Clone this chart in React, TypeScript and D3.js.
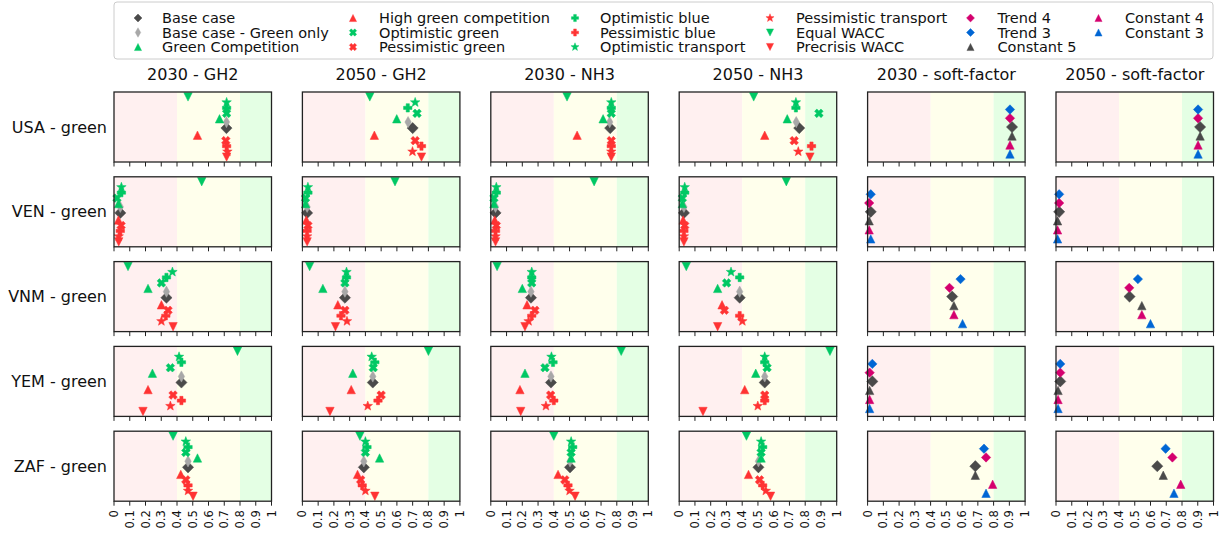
import React from "react";
import * as d3 from "d3";

const countries = ["USA - green", "VEN - green", "VNM - green", "YEM - green", "ZAF - green"];
const columnTitles = ["2030 - GH2", "2050 - GH2", "2030 - NH3", "2050 - NH3", "2030 - soft-factor", "2050 - soft-factor"];
const xTicks = [0, 0.1, 0.2, 0.3, 0.4, 0.5, 0.6, 0.7, 0.8, 0.9, 1];
const xTickLabels = ["0", "0.1", "0.2", "0.3", "0.4", "0.5", "0.6", "0.7", "0.8", "0.9", "1"];
const bands = [
  { from: 0, to: 0.4, color: "#fff0f0" },
  { from: 0.4, to: 0.8, color: "#ffffec" },
  { from: 0.8, to: 1, color: "#e4ffe4" },
];

// rows = countries (USA, VEN, VNM, YEM, ZAF); cols = [2030 GH2, 2050 GH2, 2030 NH3, 2050 NH3]
const baseCase = [
  [0.714, 0.7, 0.758, 0.762],
  [0.04, 0.03, 0.03, 0.03],
  [0.333, 0.27, 0.255, 0.384],
  [0.428, 0.447, 0.382, 0.543],
  [0.47, 0.39, 0.503, 0.503],
];
const baseGreenOnly = [
  [0.714, 0.671, 0.755, 0.743],
  [0.04, 0.03, 0.03, 0.03],
  [0.333, 0.27, 0.255, 0.384],
  [0.428, 0.447, 0.382, 0.543],
  [0.47, 0.39, 0.503, 0.503],
];
const greenCompetition = [
  [0.67, 0.599, 0.713, 0.686],
  [0.028, 0.02, 0.02, 0.02],
  [0.216, 0.13, 0.2, 0.244],
  [0.244, 0.32, 0.217, 0.486],
  [0.53, 0.49, 0.51, 0.52],
];
const highGreenCompetition = [
  [0.53, 0.457, 0.548, 0.543],
  [0.028, 0.025, 0.025, 0.025],
  [0.301, 0.225, 0.23, 0.272],
  [0.216, 0.31, 0.185, 0.416],
  [0.424, 0.35, 0.427, 0.44],
];
const optimisticGreen = [
  [0.715, 0.728, 0.765, 0.887],
  [0.019, 0.02, 0.02, 0.02],
  [0.301, 0.27, 0.26, 0.301],
  [0.358, 0.45, 0.344, 0.558],
  [0.456, 0.4, 0.51, 0.52],
];
const pessimisticGreen = [
  [0.71, 0.716, 0.765, 0.73],
  [0.045, 0.035, 0.035, 0.035],
  [0.343, 0.27, 0.28, 0.287],
  [0.375, 0.5, 0.38, 0.543],
  [0.456, 0.37, 0.47, 0.51],
];
const optimisticBlue = [
  [0.715, 0.669, 0.765, 0.741],
  [0.047, 0.035, 0.035, 0.035],
  [0.333, 0.28, 0.26, 0.384],
  [0.428, 0.46, 0.395, 0.543],
  [0.47, 0.41, 0.52, 0.53],
];
const pessimisticBlue = [
  [0.715, 0.756, 0.765, 0.84],
  [0.04, 0.03, 0.03, 0.03],
  [0.329, 0.245, 0.26, 0.384],
  [0.428, 0.48, 0.4, 0.543],
  [0.47, 0.38, 0.49, 0.53],
];
const optimisticTransport = [
  [0.715, 0.716, 0.765, 0.741],
  [0.047, 0.035, 0.035, 0.035],
  [0.371, 0.28, 0.26, 0.329],
  [0.413, 0.44, 0.385, 0.543],
  [0.456, 0.4, 0.51, 0.52],
];
const pessimisticTransport = [
  [0.72, 0.699, 0.765, 0.756],
  [0.03, 0.03, 0.03, 0.03],
  [0.301, 0.283, 0.24, 0.401],
  [0.358, 0.415, 0.35, 0.499],
  [0.47, 0.4, 0.5, 0.55],
];
const equalWACC = [
  [0.47, 0.428, 0.484, 0.473],
  [0.557, 0.588, 0.656, 0.68],
  [0.089, 0.046, 0.04, 0.045],
  [0.784, 0.8, 0.828, 0.957],
  [0.375, 0.365, 0.4, 0.427],
];
const precrisisWACC = [
  [0.715, 0.756, 0.765, 0.83],
  [0.03, 0.03, 0.03, 0.03],
  [0.375, 0.21, 0.217, 0.244],
  [0.184, 0.175, 0.19, 0.151],
  [0.502, 0.46, 0.535, 0.58],
];

// soft-factor: rows = countries; cols = [2030, 2050]
const softBase = [
  [0.917, 0.915],
  [0.02, 0.02],
  [0.537, 0.467],
  [0.03, 0.027],
  [0.684, 0.643],
];
const trend4 = [
  [0.904, 0.902],
  [0.01, 0.02],
  [0.52, 0.465],
  [0.013, 0.027],
  [0.752, 0.739],
];
const trend3 = [
  [0.904, 0.902],
  [0.02, 0.02],
  [0.59, 0.52],
  [0.03, 0.027],
  [0.739, 0.696],
];
const constant5 = [
  [0.917, 0.915],
  [0.01, 0.01],
  [0.548, 0.545],
  [0.013, 0.013],
  [0.684, 0.681],
];
const constant4 = [
  [0.904, 0.902],
  [0.01, 0.01],
  [0.548, 0.545],
  [0.013, 0.013],
  [0.794, 0.792],
];
const constant3 = [
  [0.904, 0.902],
  [0.02, 0.01],
  [0.603, 0.6],
  [0.013, 0.013],
  [0.752, 0.749],
];

const GREEN = "#00c864";
const RED = "#ff3333";
const DARK = "#4a4a4a";
const GREY = "#a8a8a8";
const MAGENTA = "#d4006e";
const BLUE = "#0066d4";

type Shape = "diamond" | "bigdiamond" | "thindiamond" | "triup" | "tridown" | "x" | "plus" | "star";

function shapePath(shape: Shape): string {
  switch (shape) {
    case "diamond": { const r = 4.7; return `M0,${-r}L${r},0L0,${r}L${-r},0Z`; }
    case "bigdiamond": { const r = 5.6; return `M0,${-r}L${r},0L0,${r}L${-r},0Z`; }
    case "thindiamond": { const w = 3.2, h = 5.6; return `M0,${-h}L${w},0L0,${h}L${-w},0Z`; }
    case "triup": { const r = 4.2; return `M0,${-r}L${r},${r}L${-r},${r}Z`; }
    case "tridown": { const r = 4.2; return `M0,${r}L${r},${-r}L${-r},${-r}Z`; }
    case "plus": {
      const r = 4.2, a = 1.6;
      return `M${-a},${-r}L${a},${-r}L${a},${-a}L${r},${-a}L${r},${a}L${a},${a}L${a},${r}L${-a},${r}L${-a},${a}L${-r},${a}L${-r},${-a}L${-a},${-a}Z`;
    }
    case "x": {
      const r = 4.5, a = 1.6;
      const pts: [number, number][] = [[-a, -r], [a, -r], [a, -a], [r, -a], [r, a], [a, a], [a, r], [-a, r], [-a, a], [-r, a], [-r, -a], [-a, -a]];
      const c = Math.SQRT1_2;
      return "M" + pts.map(([x, y]) => `${(x * c - y * c).toFixed(2)},${(x * c + y * c).toFixed(2)}`).join("L") + "Z";
    }
    case "star": {
      const R = 5, r = 2.1;
      const pts: string[] = [];
      for (let i = 0; i < 10; i++) {
        const ang = -Math.PI / 2 + (i * Math.PI) / 5;
        const rad = i % 2 === 0 ? R : r;
        pts.push(`${(rad * Math.cos(ang)).toFixed(2)},${(rad * Math.sin(ang)).toFixed(2)}`);
      }
      return "M" + pts.join("L") + "Z";
    }
  }
  return "";
}

// y slot (category position) inside each panel
const mainSeries = [
  { name: "Base case", data: baseCase, shape: "bigdiamond" as Shape, color: DARK, y: -0.2 },
  { name: "Base case - Green only", data: baseGreenOnly, shape: "thindiamond" as Shape, color: GREY, y: 0.9 },
  { name: "Green Competition", data: greenCompetition, shape: "triup" as Shape, color: GREEN, y: 1.5 },
  { name: "High green competition", data: highGreenCompetition, shape: "triup" as Shape, color: RED, y: -1.5 },
  { name: "Optimistic green", data: optimisticGreen, shape: "x" as Shape, color: GREEN, y: 2.5 },
  { name: "Pessimistic green", data: pessimisticGreen, shape: "x" as Shape, color: RED, y: -2.5 },
  { name: "Optimistic blue", data: optimisticBlue, shape: "plus" as Shape, color: GREEN, y: 3.5 },
  { name: "Pessimistic blue", data: pessimisticBlue, shape: "plus" as Shape, color: RED, y: -3.5 },
  { name: "Optimistic transport", data: optimisticTransport, shape: "star" as Shape, color: GREEN, y: 4.5 },
  { name: "Pessimistic transport", data: pessimisticTransport, shape: "star" as Shape, color: RED, y: -4.5 },
  { name: "Equal WACC", data: equalWACC, shape: "tridown" as Shape, color: GREEN, y: 5.5 },
  { name: "Precrisis WACC", data: precrisisWACC, shape: "tridown" as Shape, color: RED, y: -5.5 },
];
const softSeries = [
  { name: "Base case", data: softBase, shape: "bigdiamond" as Shape, color: DARK, y: 0 },
  { name: "Trend 4", data: trend4, shape: "diamond" as Shape, color: MAGENTA, y: 1.6 },
  { name: "Trend 3", data: trend3, shape: "diamond" as Shape, color: BLUE, y: 3.2 },
  { name: "Constant 5", data: constant5, shape: "triup" as Shape, color: DARK, y: -1.65 },
  { name: "Constant 4", data: constant4, shape: "triup" as Shape, color: MAGENTA, y: -3.3 },
  { name: "Constant 3", data: constant3, shape: "triup" as Shape, color: BLUE, y: -4.95 },
];

const legendColumns = [
  [
    { name: "Base case", shape: "diamond" as Shape, color: DARK },
    { name: "Base case - Green only", shape: "thindiamond" as Shape, color: GREY },
    { name: "Green Competition", shape: "triup" as Shape, color: GREEN },
  ],
  [
    { name: "High green competition", shape: "triup" as Shape, color: RED },
    { name: "Optimistic green", shape: "x" as Shape, color: GREEN },
    { name: "Pessimistic green", shape: "x" as Shape, color: RED },
  ],
  [
    { name: "Optimistic blue", shape: "plus" as Shape, color: GREEN },
    { name: "Pessimistic blue", shape: "plus" as Shape, color: RED },
    { name: "Optimistic transport", shape: "star" as Shape, color: GREEN },
  ],
  [
    { name: "Pessimistic transport", shape: "star" as Shape, color: RED },
    { name: "Equal WACC", shape: "tridown" as Shape, color: GREEN },
    { name: "Precrisis WACC", shape: "tridown" as Shape, color: RED },
  ],
  [
    { name: "Trend 4", shape: "diamond" as Shape, color: MAGENTA },
    { name: "Trend 3", shape: "diamond" as Shape, color: BLUE },
    { name: "Constant 5", shape: "triup" as Shape, color: DARK },
  ],
  [
    { name: "Constant 4", shape: "triup" as Shape, color: MAGENTA },
    { name: "Constant 3", shape: "triup" as Shape, color: BLUE },
  ],
];

const W = 1220, H = 536;
const FONT = "DejaVu Sans, sans-serif";
const panelLeft0 = 114, panelStepX = 188.4, panelW = 157.5;
const panelTop0 = 92, panelStepY = 84.8, panelH = 70;
const legendMarkerX = [138, 353, 575, 770, 970.5, 1098.5];
const legendTextX = [162, 379, 600, 796, 997.5, 1125];
const legendRowY = [18, 32.5, 47];

export default function App() {
  const x = d3.scaleLinear().domain([0, 1]).range([0, panelW]);
  const y = d3.scaleLinear().domain([-6.4, 6.4]).range([panelH, 0]);

  const panels: React.ReactNode[] = [];
  countries.forEach((country, ri) => {
    columnTitles.forEach((title, ci) => {
      const left = panelLeft0 + ci * panelStepX;
      const top = panelTop0 + ri * panelStepY;
      const isSoft = ci >= 4;
      const series = isSoft ? softSeries : mainSeries;
      const colIdx = isSoft ? ci - 4 : ci;
      panels.push(
        <g key={`p-${ri}-${ci}`} transform={`translate(${left},${top})`}>
          {bands.map((b, bi) => (
            <rect key={bi} x={x(b.from)} y={0} width={x(b.to) - x(b.from)} height={panelH} fill={b.color} />
          ))}
          {series.map((s, si) => (
            <path
              key={si}
              d={shapePath(s.shape)}
              transform={`translate(${x(s.data[ri][colIdx])},${y(s.y)})`}
              fill={s.color}
              stroke={s.color}
              strokeWidth={0.5}
            />
          ))}
          <rect x={0} y={0} width={panelW} height={panelH} fill="none" stroke="#222" strokeWidth={1.3} />
          {xTicks.map((t, ti) => (
            <line key={ti} x1={x(t)} x2={x(t)} y1={panelH} y2={panelH + 4.5} stroke="#222" strokeWidth={1} />
          ))}
          {ri === countries.length - 1 &&
            xTicks.map((t, ti) => (
              <text
                key={`l${ti}`}
                transform={`translate(${x(t)},${panelH + 9}) rotate(-90)`}
                textAnchor="end"
                dominantBaseline="central"
                fontSize={11.5}
                fontFamily={FONT}
                fill="#111"
              >
                {xTickLabels[ti]}
              </text>
            ))}
          {ri === 0 && (
            <text x={panelW / 2} y={-12} textAnchor="middle" fontSize={16} fontFamily={FONT} fill="#111">
              {title}
            </text>
          )}
          {ci === 0 && (
            <text x={-7} y={panelH / 2} textAnchor="end" dominantBaseline="central" fontSize={16} fontFamily={FONT} fill="#111">
              {country}
            </text>
          )}
        </g>
      );
    });
  });

  return (
    <svg width={W} height={H} style={{ position: "absolute", left: 0, top: 0, background: "#fff" }}>
      <rect x={114} y={2} width={1099} height={57} rx={3} fill="#fff" stroke="#cccccc" strokeWidth={1} />
      {legendColumns.map((col, ci) =>
        col.map((item, ri) => (
          <g key={`lg-${ci}-${ri}`}>
            <path
              d={shapePath(item.shape)}
              transform={`translate(${legendMarkerX[ci]},${legendRowY[ri]}) scale(0.85)`}
              fill={item.color}
              stroke={item.color}
              strokeWidth={0.5}
            />
            <text x={legendTextX[ci]} y={legendRowY[ri]} dominantBaseline="central" fontSize={14.5} fontFamily={FONT} fill="#111">
              {item.name}
            </text>
          </g>
        ))
      )}
      {panels}
    </svg>
  );
}
